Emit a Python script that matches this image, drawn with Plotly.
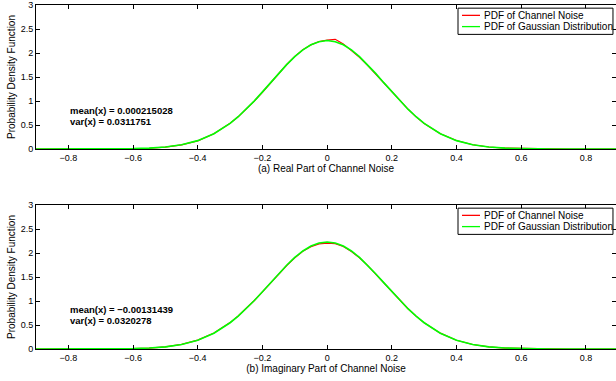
import plotly.graph_objects as go

# ---------------- data ----------------
x_vals = [-0.90, -0.85, -0.80, -0.75, -0.70, -0.65, -0.60, -0.55, -0.50, -0.45,
          -0.40, -0.35, -0.30,
          -0.275, -0.25, -0.225, -0.20, -0.175, -0.15, -0.125, -0.10, -0.075, -0.05,
          -0.025, 0.00, 0.025, 0.05, 0.075, 0.10, 0.125, 0.15, 0.175, 0.20,
          0.225, 0.25, 0.275,
          0.30, 0.35, 0.40, 0.45, 0.50, 0.55, 0.60, 0.65, 0.70, 0.75,
          0.80, 0.85, 0.90]

# (a) real part
noise_real = [0.0, 0.0, 0.0, 0.0003, 0.001, 0.002, 0.006, 0.016, 0.040, 0.086,
              0.170, 0.318, 0.538,
              0.670, 0.825, 0.998, 1.182, 1.380, 1.570, 1.760, 1.930, 2.068, 2.170,
              2.240, 2.270, 2.285, 2.190, 2.055, 1.910, 1.745, 1.560, 1.372, 1.180,
              1.000, 0.832, 0.670,
              0.530, 0.318, 0.176, 0.088, 0.042, 0.018, 0.007, 0.003, 0.001, 0.0003,
              0.0, 0.0, 0.0]
gauss_real = [0.0, 0.0, 0.0001, 0.0003, 0.0009, 0.0026, 0.0070, 0.0177, 0.0410, 0.0878,
              0.174, 0.317, 0.533,
              0.672, 0.829, 1.003, 1.190, 1.382, 1.575, 1.758, 1.925, 2.064, 2.171,
              2.236, 2.259, 2.236, 2.171, 2.064, 1.925, 1.758, 1.575, 1.382, 1.190,
              1.003, 0.829, 0.672,
              0.533, 0.317, 0.174, 0.0878, 0.0410, 0.0177, 0.0070, 0.0026, 0.0009, 0.0003,
              0.0001, 0.0, 0.0]

# (b) imaginary part
noise_imag = [0.0, 0.0, 0.0001, 0.0003, 0.001, 0.003, 0.008, 0.020, 0.046, 0.096,
              0.185, 0.332, 0.550,
              0.688, 0.842, 1.010, 1.190, 1.378, 1.565, 1.740, 1.900, 2.035, 2.130,
              2.190, 2.205, 2.195, 2.135, 2.030, 1.900, 1.742, 1.560, 1.378, 1.190,
              1.008, 0.838, 0.684,
              0.545, 0.330, 0.182, 0.094, 0.044, 0.019, 0.008, 0.003, 0.001, 0.0003,
              0.0001, 0.0, 0.0]
gauss_imag = [0.0, 0.0, 0.0001, 0.0003, 0.0011, 0.0030, 0.0081, 0.0198, 0.0450, 0.0945,
              0.183, 0.329, 0.547,
              0.685, 0.840, 1.011, 1.194, 1.382, 1.569, 1.746, 1.907, 2.042, 2.144,
              2.207, 2.229, 2.207, 2.144, 2.042, 1.907, 1.746, 1.569, 1.382, 1.194,
              1.011, 0.840, 0.685,
              0.547, 0.329, 0.183, 0.0945, 0.0450, 0.0198, 0.0081, 0.0030, 0.0011, 0.0003,
              0.0001, 0.0, 0.0]

series_names = ["PDF of Channel Noise", "PDF of Gaussian Distribution"]
series_colors = ["#ff0000", "#00ff00"]
panel_titles = ["(a) Real Part of Channel Noise", "(b) Imaginary Part of Channel Noise"]
stats_text = [["mean(x) = 0.000215028", "var(x) = 0.0311751"],
              ["mean(x) = \u22120.00131439", "var(x) = 0.0320278"]]
x_ticks = [-0.8, -0.6, -0.4, -0.2, 0, 0.2, 0.4, 0.6, 0.8]
y_ticks = [0, 0.5, 1, 1.5, 2, 2.5, 3]
y_tick_text = ["0", "0.5", "1", "1.5", "2", "2.5", "3"]

# ---------------- figure ----------------
FONT = "Liberation Sans, Arial, Helvetica, sans-serif"
fig = go.Figure()

panels = [(noise_real, gauss_real, "x", "y"),
          (noise_imag, gauss_imag, "x2", "y2")]
for (noise, gauss, xa, ya) in panels:
    fig.add_trace(go.Scatter(x=x_vals, y=noise, mode="lines", name=series_names[0],
                             line=dict(color=series_colors[0], width=1.2),
                             xaxis=xa, yaxis=ya, showlegend=False))
    fig.add_trace(go.Scatter(x=x_vals, y=gauss, mode="lines", name=series_names[1],
                             line=dict(color=series_colors[1], width=1.6),
                             xaxis=xa, yaxis=ya, showlegend=False))

H_TOTAL = 344.0
top_dom = [(349 - 149) / H_TOTAL, 1.0]
bot_dom = [0.0, 144 / H_TOTAL]

def xaxis_cfg(title, anchor):
    return dict(range=[-0.9, 0.893], tickvals=x_ticks, ticks="inside", ticklen=4,
                tickcolor="black", showline=True, linecolor="black", linewidth=1,
                mirror="ticks", showgrid=False, zeroline=False, automargin=False,
                tickfont=dict(family=FONT, size=9, color="black"),
                title=dict(text=title, font=dict(family=FONT, size=10, color="black"),
                           standoff=0),
                anchor=anchor)

def yaxis_cfg(dom, anchor):
    return dict(range=[0, 3], domain=dom, tickvals=y_ticks, ticktext=y_tick_text,
                ticks="inside", ticklen=4, tickcolor="black", showline=True,
                linecolor="black", linewidth=1, mirror="ticks", showgrid=False,
                zeroline=False, automargin=False,
                tickfont=dict(family=FONT, size=9, color="black"),
                title=dict(text="Probability Density Function",
                           font=dict(family=FONT, size=10, color="black"), standoff=3),
                anchor=anchor)

fig.update_layout(
    width=616, height=381,
    margin=dict(l=36, r=0, t=5, b=32, autoexpand=False),
    paper_bgcolor="white", plot_bgcolor="white",
    xaxis=xaxis_cfg(panel_titles[0], "y"),
    yaxis=yaxis_cfg(top_dom, "x"),
    xaxis2=xaxis_cfg(panel_titles[1], "y2"),
    yaxis2=yaxis_cfg(bot_dom, "x2"),
    showlegend=False,
)

# statistics text
for (xr, yr, texts, ys) in [("x", "y", stats_text[0], [0.81, 0.58]),
                            ("x2", "y2", stats_text[1], [0.83, 0.59])]:
    for t, yy in zip(texts, ys):
        fig.add_annotation(x=-0.8, y=yy, xref=xr, yref=yr, text="<b>%s</b>" % t,
                           showarrow=False, xanchor="left", yanchor="middle",
                           font=dict(family=FONT, size=9.5, color="black"))

# MATLAB-style legend box inside each panel (axis-domain coordinates)
for (xa, ya) in [("x", "y"), ("x2", "y2")]:
    xd, yd = xa + " domain", ya + " domain"
    fig.add_shape(type="rect", xref=xd, yref=yd, x0=0.7276, x1=0.9948, y0=0.796, y1=0.978,
                  line=dict(color="black", width=1), fillcolor="white", layer="above")
    for name, col, yy in zip(series_names, series_colors, [0.928, 0.850]):
        fig.add_shape(type="line", xref=xd, yref=yd, x0=0.7345, x1=0.7655, y0=yy, y1=yy,
                      line=dict(color=col, width=1.3), layer="above")
        fig.add_annotation(x=0.769, y=yy, xref=xd, yref=yd, text=name, showarrow=False,
                           xanchor="left", yanchor="middle",
                           font=dict(family=FONT, size=10, color="black"))

fig.write_html("out.html", config={"displayModeBar": False},
               post_script="document.body.style.margin='0px';document.body.style.overflow='hidden';")
